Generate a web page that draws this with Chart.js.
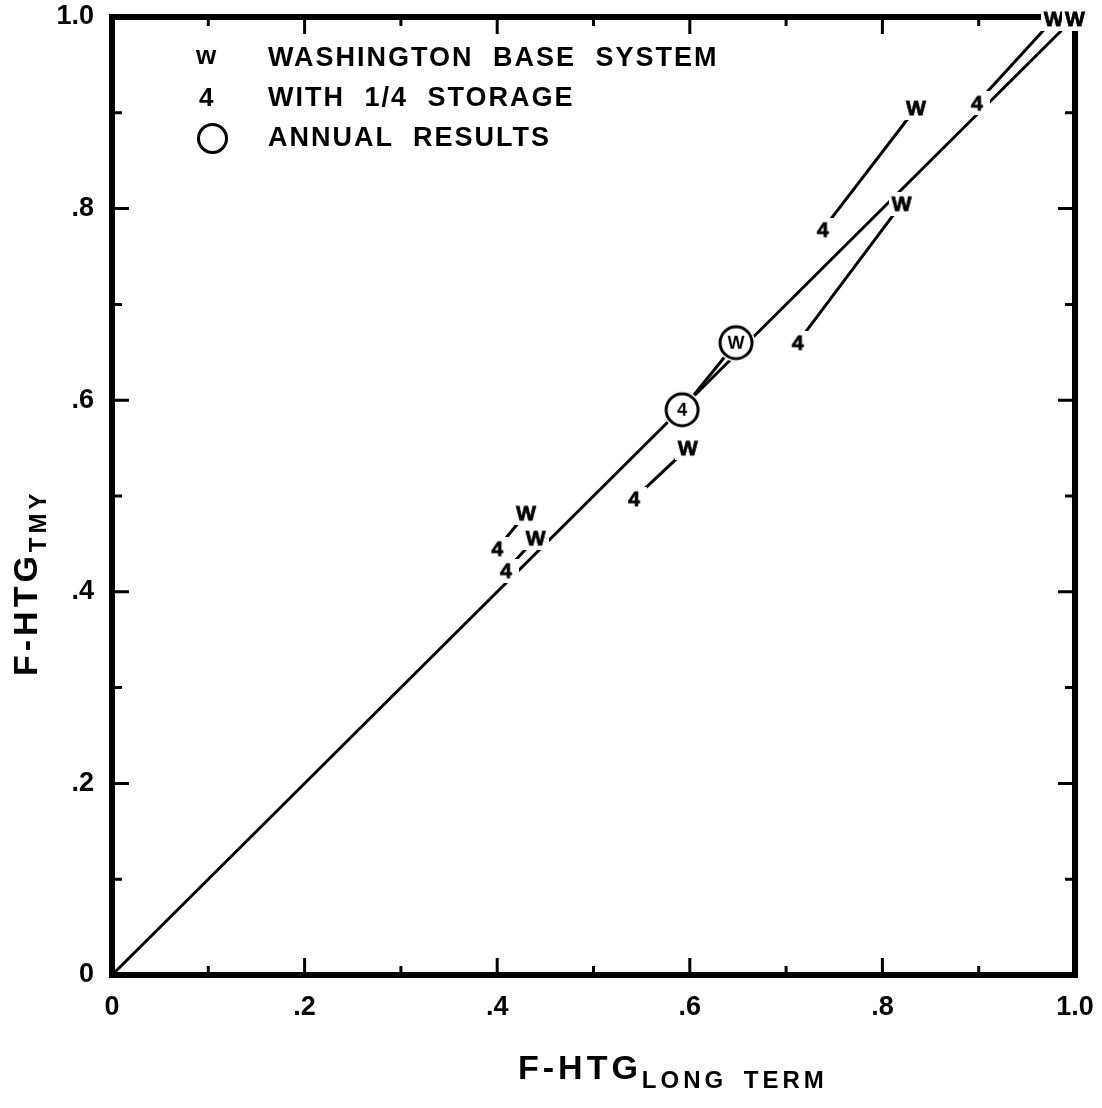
<!DOCTYPE html>
<html>
<head>
<meta charset="utf-8">
<title>F-HTG TMY vs Long Term</title>
<script src="https://cdn.jsdelivr.net/npm/chart.js@4.4.1/dist/chart.umd.min.js"></script>
<style>
  html, body { margin: 0; padding: 0; background: #fff; }
  #wrap { position: relative; width: 1102px; height: 1108px; font-family: "Liberation Sans", Arial, sans-serif; font-weight: bold; color: #000; }
  #chart { position: absolute; left: 0; top: 0; }
  .legend-row { position: absolute; left: 268px; font-size: 27px; letter-spacing: 2px; word-spacing: 10px; line-height: 30px; }
  .legend-sym { position: absolute; font-size: 26px; line-height: 30px; }
  .legend-circle { position: absolute; width: 25px; height: 25px; border: 3px solid #000; border-radius: 50%; }
  .xtitle { position: absolute; left: 518px; top: 1048px; font-size: 34px; letter-spacing: 4px; white-space: nowrap; }
  .xtitle sub, .ytitle sub { font-size: 24px; letter-spacing: 4px; word-spacing: 6px; vertical-align: -9px; }
  .ytitle { position: absolute; left: 6px; top: 676px; font-size: 34px; letter-spacing: 4px; white-space: nowrap; transform: rotate(-90deg); transform-origin: 0 0; line-height: 38px; }
</style>
</head>
<body>
<div id="wrap">
  <canvas id="chart" width="1102" height="1108"></canvas>

  <div class="legend-sym" style="left:196px; top:40px;">w</div>
  <div class="legend-row" style="top:42px;">WASHINGTON BASE SYSTEM</div>
  <div class="legend-sym" style="left:199px; top:82px;">4</div>
  <div class="legend-row" style="top:82px;">WITH 1/4 STORAGE</div>
  <div class="legend-circle" style="left:197px; top:123px;"></div>
  <div class="legend-row" style="top:122px;">ANNUAL RESULTS</div>

  <div class="xtitle">F-HTG<sub>LONG TERM</sub></div>
  <div class="ytitle">F-HTG<sub>TMY</sub></div>
</div>

<script>
// Data: each pair joins a "4" point (1/4 storage) to its "W" point (base system)
const wX    = [0.978, 0.835, 0.820, 0.648, 0.598, 0.430, 0.440];
const wY    = [0.998, 0.905, 0.805, 0.660, 0.550, 0.482, 0.456];
const fourX = [0.898, 0.738, 0.712, 0.592, 0.542, 0.400, 0.409];
const fourY = [0.910, 0.778, 0.660, 0.590, 0.497, 0.445, 0.422];
const annual = [false, false, false, true, false, false, false];

// Lone W in the top right corner
const loneWX = [1.0];
const loneWY = [0.998];

// 1:1 reference line
const diagX = [0, 1];
const diagY = [0, 1];

// Tick labels
const tickValues = [0, 0.2, 0.4, 0.6, 0.8, 1.0];
const tickLabels = ['0', '.2', '.4', '.6', '.8', '1.0'];

const FONT = '"Liberation Sans", Arial, sans-serif';

// Letter markers on white so lines stop short of them
function letterMarker(ch, size) {
    const c = document.createElement('canvas');
    c.width = 26;
    c.height = 24;
    const g = c.getContext('2d');
    g.fillStyle = '#fff';
    g.fillRect(0, 0, c.width, c.height);
    g.fillStyle = '#000';
    g.strokeStyle = '#000';
    g.lineWidth = 0.8;
    g.font = `bold ${size}px ${FONT}`;
    g.textAlign = 'center';
    g.textBaseline = 'middle';
    g.fillText(ch, c.width / 2, c.height / 2 + 1);
    g.strokeText(ch, c.width / 2, c.height / 2 + 1);
    return c;
}

function circledMarker(ch) {
    const c = document.createElement('canvas');
    c.width = 42;
    c.height = 42;
    const g = c.getContext('2d');
    g.fillStyle = '#fff';
    g.beginPath();
    g.arc(21, 21, 19, 0, Math.PI * 2);
    g.fill();
    g.strokeStyle = '#000';
    g.lineWidth = 3;
    g.beginPath();
    g.arc(21, 21, 16, 0, Math.PI * 2);
    g.stroke();
    g.fillStyle = '#000';
    g.font = `bold 18px ${FONT}`;
    g.textAlign = 'center';
    g.textBaseline = 'middle';
    g.fillText(ch, 21, 22);
    return c;
}

const wMark = letterMarker('W', 21);
const fourMark = letterMarker('4', 21);
const wCircle = circledMarker('W');
const fourCircle = circledMarker('4');

// Build datasets
const datasets = [];

datasets.push({
    data: diagX.map((x, i) => ({ x: x, y: diagY[i] })),
    showLine: true,
    borderColor: '#000',
    borderWidth: 3,
    pointRadius: 0,
    clip: false,
    order: 10
});

wX.forEach((x, i) => {
    datasets.push({
        data: [{ x: fourX[i], y: fourY[i] }, { x: x, y: wY[i] }],
        showLine: true,
        borderColor: '#000',
        borderWidth: 3,
        pointRadius: 10,
        pointStyle: annual[i] ? [fourCircle, wCircle] : [fourMark, wMark],
        clip: false,
        order: 1
    });
});

datasets.push({
    data: loneWX.map((x, i) => ({ x: x, y: loneWY[i] })),
    showLine: false,
    pointRadius: 10,
    pointStyle: wMark,
    clip: false,
    order: 0
});

function tickLabel(value) {
    const idx = tickValues.findIndex(v => Math.abs(v - value) < 1e-6);
    return idx >= 0 ? tickLabels[idx] : '';
}

// Frame and inward tick marks on all four sides
const framePlugin = {
    id: 'frame',
    beforeDatasetsDraw(chart) {
        const { ctx, chartArea: a, scales } = chart;
        ctx.save();
        ctx.strokeStyle = '#000';
        ctx.lineWidth = 3;
        scales.x.ticks.forEach(t => {
            const px = scales.x.getPixelForValue(t.value);
            const major = Math.round(t.value * 10) % 2 === 0;
            const len = major ? 17 : 9;
            if (t.value <= 0 || t.value >= 1) return;
            ctx.beginPath();
            ctx.moveTo(px, a.bottom); ctx.lineTo(px, a.bottom - len);
            ctx.moveTo(px, a.top); ctx.lineTo(px, a.top + len);
            ctx.stroke();
        });
        scales.y.ticks.forEach(t => {
            const py = scales.y.getPixelForValue(t.value);
            const major = Math.round(t.value * 10) % 2 === 0;
            const len = major ? 17 : 10;
            if (t.value <= 0 || t.value >= 1) return;
            ctx.beginPath();
            ctx.moveTo(a.left, py); ctx.lineTo(a.left + len, py);
            ctx.moveTo(a.right, py); ctx.lineTo(a.right - len, py);
            ctx.stroke();
        });
        ctx.lineWidth = 6;
        ctx.strokeRect(a.left, a.top, a.right - a.left, a.bottom - a.top);
        ctx.restore();
    }
};

new Chart(document.getElementById('chart'), {
    type: 'scatter',
    data: { datasets: datasets },
    options: {
        responsive: false,
        animation: false,
        events: [],
        layout: { padding: { left: 0, top: 17, right: 27, bottom: 0 } },
        plugins: {
            legend: { display: false },
            tooltip: { enabled: false }
        },
        scales: {
            x: {
                type: 'linear',
                min: 0,
                max: 1,
                afterFit(scale) {
                    scale.height = 133;
                    scale.paddingLeft = 0;
                    scale.paddingRight = 0;
                },
                grid: { display: false, drawTicks: false },
                border: { display: false },
                ticks: {
                    stepSize: 0.1,
                    autoSkip: false,
                    maxRotation: 0,
                    padding: 16,
                    color: '#000',
                    font: { family: FONT, size: 27, weight: 'bold' },
                    callback: v => tickLabel(v)
                }
            },
            y: {
                type: 'linear',
                min: 0,
                max: 1,
                afterFit(scale) {
                    scale.width = 112;
                    scale.paddingTop = 0;
                    scale.paddingBottom = 0;
                },
                grid: { display: false, drawTicks: false },
                border: { display: false },
                ticks: {
                    stepSize: 0.1,
                    autoSkip: false,
                    padding: 18,
                    color: '#000',
                    font: { family: FONT, size: 27, weight: 'bold' },
                    callback: v => tickLabel(v)
                }
            }
        }
    },
    plugins: [framePlugin]
});
</script>
</body>
</html>
